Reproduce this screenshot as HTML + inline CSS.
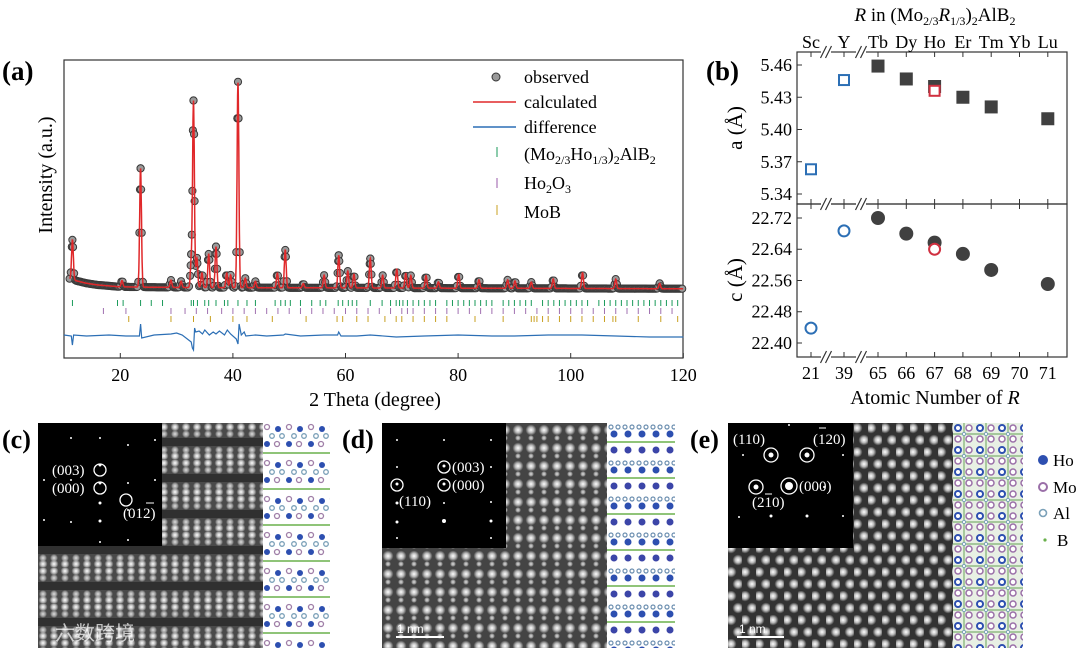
<!DOCTYPE html>
<html><head><meta charset="utf-8"><style>
html,body{margin:0;padding:0;background:#fff;}
svg{display:block;}
svg text{font-family:"Liberation Serif","DejaVu Serif","Noto Serif CJK SC",serif;}
svg text.cjk{font-family:"Noto Sans CJK SC",sans-serif;}
svg text.sans{font-family:"Liberation Sans",sans-serif;}
</style></head><body>
<svg id="fig" width="1080" height="648" viewBox="0 0 1080 648" xmlns="http://www.w3.org/2000/svg">
<defs>
<radialGradient id="spot" cx="50%" cy="50%" r="50%"><stop offset="0" stop-color="#fff"/><stop offset="0.5" stop-color="#bbb"/><stop offset="1" stop-color="#bbb" stop-opacity="0"/></radialGradient>
<radialGradient id="spot2" cx="50%" cy="50%" r="50%"><stop offset="0" stop-color="#ddd"/><stop offset="0.6" stop-color="#999"/><stop offset="1" stop-color="#999" stop-opacity="0"/></radialGradient>
<pattern id="patC" width="11" height="36" patternUnits="userSpaceOnUse" x="38" y="423">
<rect width="11" height="36" fill="#4a4a4a"/>
<rect y="15" width="11" height="8" fill="#303030"/>
<circle cx="5" cy="4" r="4.5" fill="url(#spot)"/><circle cx="5" cy="11" r="4" fill="url(#spot2)"/>
<circle cx="5" cy="27" r="4" fill="url(#spot2)"/><circle cx="5" cy="33" r="4.5" fill="url(#spot)"/>
</pattern>
<pattern id="patD" width="13" height="18" patternUnits="userSpaceOnUse" x="382" y="423">
<rect width="13" height="18" fill="#444"/>
<circle cx="6" cy="7" r="5.5" fill="url(#spot)"/><circle cx="6" cy="15" r="3" fill="url(#spot2)"/>
</pattern>
<pattern id="patE" width="14" height="24" patternUnits="userSpaceOnUse" x="728" y="423">
<rect width="14" height="24" fill="#333"/>
<circle cx="3" cy="5" r="5.5" fill="url(#spot)"/><circle cx="10" cy="17" r="5.5" fill="url(#spot)"/>
</pattern>
<pattern id="modC" width="22" height="36" patternUnits="userSpaceOnUse" x="263" y="423">
<rect width="22" height="36" fill="#fff"/>
<circle cx="4" cy="4" r="2.5" fill="none" stroke="#a07fa8" stroke-width="1.3"/><circle cx="15" cy="6" r="3" fill="#2d4fb0"/>
<circle cx="9" cy="13" r="2.3" fill="none" stroke="#7aa0b8" stroke-width="1.3"/><circle cx="19" cy="13" r="2.3" fill="none" stroke="#7aa0b8" stroke-width="1.3"/>
<circle cx="4" cy="21" r="3" fill="#2d4fb0"/><circle cx="14" cy="21" r="2.5" fill="none" stroke="#a07fa8" stroke-width="1.3"/>
<line x1="0" y1="30" x2="22" y2="30" stroke="#6ab04c" stroke-width="1.5"/>
</pattern>
<pattern id="modD" width="14" height="36" patternUnits="userSpaceOnUse" x="607" y="423">
<rect width="14" height="36" fill="#fff"/>
<circle cx="4" cy="4" r="2" fill="none" stroke="#6c8fb0" stroke-width="1.2"/><circle cx="11" cy="4" r="2" fill="none" stroke="#6c8fb0" stroke-width="1.2"/>
<circle cx="7" cy="11" r="3.5" fill="#2d4fb0"/>
<line x1="0" y1="19" x2="14" y2="19" stroke="#6ab04c" stroke-width="1.5"/>
<circle cx="7" cy="27" r="3.5" fill="#3b45a8"/>
</pattern>
<pattern id="modE" width="22" height="22" patternUnits="userSpaceOnUse" x="953" y="423">
<rect width="22" height="22" fill="#e8f0e4"/>
<path d="M0 11 L22 11 M11 0 L11 22" stroke="#7fb070" stroke-width="1.2"/>
<circle cx="5" cy="5" r="3" fill="#fff" stroke="#2d4fb0" stroke-width="2"/>
<circle cx="16" cy="5" r="3" fill="#fff" stroke="#9a6fa8" stroke-width="1.5"/>
<circle cx="5" cy="16" r="3" fill="#fff" stroke="#9a6fa8" stroke-width="1.5"/>
<circle cx="16" cy="16" r="3" fill="#fff" stroke="#9a6fa8" stroke-width="1.5"/>
<circle cx="11" cy="11" r="1.6" fill="#fff" stroke="#7aa0b8"/>
</pattern>
</defs>

<!-- Panel (a) -->
<g id="pa">
<text x="2" y="80" font-size="27" font-weight="bold">(a)</text>
<rect x="64" y="60" width="619" height="298" fill="none" stroke="#333" stroke-width="1.2"/>
<g id="aTicks"></g>
<g id="aTickRows"></g>
<polyline id="diffLine" fill="none" stroke="#2c6fb5" stroke-width="1.2"/>
<g id="obsPts"></g>
<polyline id="calcLine" fill="none" stroke="#e0282a" stroke-width="1.5"/>
<text x="375" y="406" font-size="20" text-anchor="middle">2 Theta (degree)</text>
<text transform="translate(52,175) rotate(-90)" font-size="20" text-anchor="middle">Intensity (a.u.)</text>
<g font-size="18">
<circle cx="496" cy="77" r="4" fill="#999" stroke="#333"/>
<text x="524" y="83">observed</text>
<line x1="473" y1="102" x2="516" y2="102" stroke="#e0282a" stroke-width="1.6"/>
<text x="524" y="108">calculated</text>
<line x1="473" y1="127" x2="516" y2="127" stroke="#2c6fb5" stroke-width="1.6"/>
<text x="524" y="133">difference</text>
<line x1="497" y1="147" x2="497" y2="157" stroke="#1a9a5a"/>
<text x="524" y="160">(Mo<tspan font-size="12" dy="4">2/3</tspan><tspan dy="-4">Ho</tspan><tspan font-size="12" dy="4">1/3</tspan><tspan dy="-4">)</tspan><tspan font-size="12" dy="4">2</tspan><tspan dy="-4">AlB</tspan><tspan font-size="12" dy="4">2</tspan></text>
<line x1="497" y1="178" x2="497" y2="188" stroke="#9a5aa8"/>
<text x="524" y="189">Ho<tspan font-size="12" dy="4">2</tspan><tspan dy="-4">O</tspan><tspan font-size="12" dy="4">3</tspan></text>
<line x1="497" y1="205" x2="497" y2="215" stroke="#c8a020"/>
<text x="524" y="218">MoB</text>
</g>
</g>

<!-- Panel (b) -->
<g id="pb">
<text x="706" y="80" font-size="27" font-weight="bold">(b)</text>
<text x="935" y="21" font-size="19" text-anchor="middle"><tspan font-style="italic">R</tspan> in (Mo<tspan font-size="12" dy="4">2/3</tspan><tspan dy="-4" font-style="italic">R</tspan><tspan font-size="12" dy="4">1/3</tspan><tspan dy="-4">)</tspan><tspan font-size="12" dy="4">2</tspan><tspan dy="-4">AlB</tspan><tspan font-size="12" dy="4">2</tspan></text>
<rect x="797" y="52" width="270" height="152" fill="none" stroke="#333" stroke-width="1.2"/>
<rect x="797" y="204" width="270" height="153" fill="none" stroke="#333" stroke-width="1.2"/>
<g id="bAxes"></g>
<g id="bMarks"></g>
<text transform="translate(742,128) rotate(-90)" font-size="21" text-anchor="middle">a (Å)</text>
<text transform="translate(742,280) rotate(-90)" font-size="21" text-anchor="middle">c (Å)</text>
<text x="935" y="404" font-size="20" text-anchor="middle">Atomic Number of <tspan font-style="italic">R</tspan></text>
</g>

<!-- Panel (c) -->
<g>
<text x="2" y="448" font-size="26" font-weight="bold">(c)</text>
<rect x="38" y="423" width="225" height="225" fill="url(#patC)"/>
<rect x="263" y="423" width="67" height="225" fill="url(#modC)"/>
<rect x="38" y="423" width="124" height="123" fill="#000"/>
<g fill="#fff">
<circle cx="100" cy="438" r="1"/><circle cx="100" cy="465" r="1.5"/><circle cx="100" cy="483" r="1.5"/><circle cx="100" cy="503" r="1.5"/><circle cx="100" cy="521" r="1.5"/><circle cx="100" cy="542" r="1"/>
<circle cx="71" cy="438" r="1"/><circle cx="71" cy="480" r="1"/><circle cx="71" cy="522" r="1"/>
<circle cx="128" cy="445" r="1"/><circle cx="128" cy="483" r="1"/><circle cx="128" cy="510" r="1"/><circle cx="128" cy="540" r="1"/>
<circle cx="155" cy="440" r="1"/><circle cx="155" cy="480" r="1"/><circle cx="44" cy="480" r="1"/><circle cx="44" cy="520" r="1"/>
</g>
<g fill="none" stroke="#fff" stroke-width="1.3"><circle cx="100" cy="470" r="6"/><circle cx="100" cy="488" r="6"/><circle cx="126" cy="500" r="6"/></g>
<g fill="#fff" font-size="15"><text x="52" y="475">(003)</text><text x="52" y="493">(000)</text><text x="123" y="518">(012)</text><line x1="146" y1="503" x2="154" y2="503" stroke="#fff"/></g>
<text class="cjk" x="55" y="640" font-size="20" fill="#fff" fill-opacity="0.7">六数跨境</text>
</g>

<!-- Panel (d) -->
<g>
<text x="342" y="448" font-size="26" font-weight="bold">(d)</text>
<rect x="382" y="423" width="225" height="225" fill="url(#patD)"/>
<rect x="607" y="423" width="68" height="225" fill="url(#modD)"/>
<rect x="382" y="423" width="124" height="125" fill="#000"/>
<g fill="#fff"><circle cx="397" cy="440" r="1"/><circle cx="397" cy="467" r="1"/><circle cx="397" cy="484" r="1.5"/><circle cx="397" cy="503" r="1.5"/><circle cx="397" cy="522" r="1.5"/><circle cx="397" cy="538" r="1"/>
<circle cx="444" cy="440" r="1"/><circle cx="444" cy="466" r="1.5"/><circle cx="444" cy="484" r="1.5"/><circle cx="444" cy="503" r="1"/><circle cx="444" cy="521" r="2"/>
<circle cx="491" cy="440" r="1"/><circle cx="491" cy="467" r="1"/><circle cx="491" cy="502" r="1"/><circle cx="491" cy="521" r="1.5"/><circle cx="491" cy="538" r="1"/></g>
<g fill="none" stroke="#fff" stroke-width="1.3"><circle cx="444" cy="467" r="6"/><circle cx="444" cy="485" r="6"/><circle cx="397" cy="485" r="6"/></g>
<g fill="#fff" font-size="15"><text x="452" y="472">(003)</text><text x="452" y="490">(000)</text><text x="399" y="506">(110)</text></g>
<line x1="396" y1="637" x2="444" y2="637" stroke="#fff" stroke-width="2"/>
<text class="sans" x="397" y="633" font-size="12" fill="#fff">1 nm</text>
</g>

<!-- Panel (e) -->
<g>
<text x="690" y="448" font-size="26" font-weight="bold">(e)</text>
<rect x="728" y="423" width="225" height="225" fill="url(#patE)"/>
<rect x="953" y="423" width="70" height="225" fill="url(#modE)"/>
<rect x="728" y="423" width="125" height="125" fill="#000"/>
<g fill="#fff"><circle cx="789" cy="425" r="1"/><circle cx="743" cy="455" r="1"/><circle cx="771" cy="455" r="2.5"/><circle cx="807" cy="455" r="2.5"/><circle cx="843" cy="455" r="1"/>
<circle cx="756" cy="487" r="2.5"/><circle cx="789" cy="486" r="4"/><circle cx="824" cy="487" r="1"/>
<circle cx="739" cy="517" r="1"/><circle cx="771" cy="516" r="1.5"/><circle cx="807" cy="516" r="1.5"/><circle cx="843" cy="516" r="1"/></g>
<g fill="none" stroke="#fff" stroke-width="1.3"><circle cx="771" cy="455" r="7"/><circle cx="807" cy="455" r="7"/><circle cx="756" cy="487" r="7"/><circle cx="789" cy="486" r="8"/></g>
<g fill="#fff" font-size="15"><text x="733" y="444">(110)</text><text x="813" y="444">(120)</text><text x="799" y="491">(000)</text><text x="752" y="507">(210)</text>
<line x1="819" y1="428" x2="826" y2="428" stroke="#fff"/><line x1="765" y1="494" x2="772" y2="494" stroke="#fff"/></g>
<line x1="737" y1="637" x2="784" y2="637" stroke="#fff" stroke-width="2"/>
<text class="sans" x="739" y="633" font-size="12" fill="#fff">1 nm</text>
<g font-size="17">
<circle cx="1043" cy="460" r="5" fill="#2d4fb0"/><text x="1053" y="466">Ho</text>
<circle cx="1043" cy="487" r="4" fill="#fff" stroke="#9a6fa8" stroke-width="2"/><text x="1053" y="493">Mo</text>
<circle cx="1043" cy="513" r="3.5" fill="#fff" stroke="#7aa0b8" stroke-width="1.6"/><text x="1053" y="519">Al</text>
<circle cx="1045" cy="540" r="1.6" fill="#6ab04c"/><text x="1057" y="546">B</text>
</g>
</g>
</svg>
<script>
// ---------- Panel (a) data ----------
const peakPos = [11.5,20.3,23.6,29.0,30.8,32.6,33.0,33.6,34.5,35.7,37.0,38.9,39.6,40.9,42.2,44.0,47.9,49.3,52.5,56.2,58.8,60.4,61.5,64.4,66.6,69.1,70.7,71.6,74.3,76.5,80.1,83.7,88.8,90.1,93.0,96.9,102.1,108.0,115.8];
const peakInt = [190,30,565,35,30,120,885,140,70,160,195,70,60,980,45,30,70,180,20,60,155,80,65,140,60,90,70,60,60,30,65,40,40,35,30,45,75,45,25];
const bgX = [10,12,14,16,20,30,60,90,120];
const bgY = [60,45,32,24,15,12,10,8,6];
const tickGreen = [11.5,19.5,20.5,23.6,25.5,27.5,32.6,33.0,33.7,35.0,35.7,37.0,38.5,39.1,40.9,42.5,44.0,47.5,48.5,49.3,50.2,52.0,54.0,55.5,56.5,58.7,59.5,60.5,61.2,62.0,64.4,66.5,68.0,69.0,69.6,70.2,71.0,72.0,73.0,74.0,75.0,76.0,78.0,79.0,80.0,81.0,82.0,83.0,84.0,85.0,86.0,88.0,89.0,90.0,91.0,92.0,93.0,95.0,96.0,97.0,98.0,99.0,100.0,101.0,102.0,103.0,105.0,106.0,107.0,108.0,109.0,110.0,111.0,112.0,113.0,114.0,115.0,116.0,117.0,118.0,119.0];
const tickPurple = [17,21,29,31.5,33.5,35.5,38,40,42,44,46,48,50,52,54,56,58,60,62,64,66,68,70,71,72,74,76,78,80,82,84,86,88,90,92,94,96,98,100,102,104,106,108,110,112,114,116,118];
const tickYellow = [21.5,29,33,36,40,42.5,47,53,58.5,59.5,62,64,67,69,70,72,74,76,78,83,88,93,93.5,94,95,96,98,100,102,104,106,107.5,108,112,116,119];
const diffX = [10,11.3,11.5,11.7,14,18,21,23.4,23.6,23.8,26,29,30,31,32.6,32.8,33.0,33.2,33.4,34,34.6,35,35.8,36.5,37,37.6,38.5,39,39.6,40.6,40.9,41.1,41.5,42,42.3,44,46,49,49.3,52,56.2,58.6,58.8,59.2,62,64.4,69,74,80,86,90,96,102,108,114,120];
const diffY = [1,0,-9,1,0,1,0,0,12,-2,1,2,3,1,-6,-12,-14,8,4,5,2,6,1,4,2,5,1,6,2,-3,-8,12,1,4,0,1,0,1,2,0,1,1,4,0,0,1,-1,0,1,0,0,1,1,0,-1,-1];
const xTicks = [20,40,60,80,100,120];

const NS="http://www.w3.org/2000/svg";
function mk(tag,attrs,parent){const e=document.createElementNS(NS,tag);for(const k in attrs)e.setAttribute(k,attrs[k]);parent.appendChild(e);return e;}
const ax = v => 64 + (v-10)*5.63;
const ay = I => 290 - I*0.21;
const diffScaleY = d => 336 - d;
function bg(x){for(let i=0;i<bgX.length-1;i++){if(x<=bgX[i+1]){const t=(x-bgX[i])/(bgX[i+1]-bgX[i]);return bgY[i]+t*(bgY[i+1]-bgY[i]);}}return bgY[bgY.length-1];}
function prof(x){let s=bg(x);for(let i=0;i<peakPos.length;i++){const d=(x-peakPos[i])/0.16;s+=peakInt[i]*Math.exp(-0.5*d*d);}return s;}

const tG=document.getElementById('aTicks');
xTicks.forEach(v=>{
  const l=mk('line',{x1:ax(v),x2:ax(v),y1:358,y2:353,stroke:'#333'},tG);
  
  
  const t=mk('text',{x:ax(v),y:381,'font-size':18,'text-anchor':'middle'},tG);
  
  
  t.textContent=v;
});
const tr=document.getElementById('aTickRows');
[[tickGreen,'#1a9a5a',300],[tickPurple,'#a070b0',308],[tickYellow,'#c8a020',316]].forEach(([arr,c,y0])=>{
  arr.forEach(v=>{const l=mk('line',{x1:ax(v),x2:ax(v),y1:y0,y2:y0+6,stroke:c,'stroke-width':1},tr);
  
  });
});
const dpts=[];
for(let i=0;i<diffX.length;i++){dpts.push(ax(diffX[i]).toFixed(1)+','+diffScaleY(diffY[i]).toFixed(1));}
document.getElementById('diffLine').setAttribute('points',dpts.join(' '));
const og=document.getElementById('obsPts');
for(let x=11;x<=119.9;x+=0.2){
  const c=mk('circle',{cx:ax(x).toFixed(1),cy:ay(prof(x)).toFixed(1),r:3.6,fill:'#9a9a9a',stroke:'#3a3a3a','stroke-width':1},og);
  
  
}
peakPos.forEach((p,i)=>{ if(peakInt[i]>100){ [-0.1,0,0.1].forEach(o=>{
  const c=mk('circle',{cx:ax(p+o).toFixed(1),cy:ay(prof(p+o)).toFixed(1),r:3.6,fill:'#9a9a9a',stroke:'#3a3a3a'},og);
  
  });}});
const cpts=[];
for(let x=11;x<=120;x+=0.04){cpts.push(ax(x).toFixed(1)+','+ay(prof(x)).toFixed(1));}
document.getElementById('calcLine').setAttribute('points',cpts.join(' '));

// ---------- Panel (b) data ----------
const elements = ['Sc','Y','Tb','Dy','Ho','Er','Tm','Yb','Lu'];
const atomicNums = [21,39,65,66,67,68,69,70,71];
const aZ = [21,39,65,66,67,68,69,71];
const aVals = [5.363,5.446,5.459,5.447,5.440,5.430,5.421,5.410];
const cVals = [22.438,22.687,22.720,22.680,22.657,22.628,22.587,22.551];
const openFlags = [1,1,0,0,0,0,0,0];
const refZ = [67];
const refA = [5.436];
const refC = [22.640];
const aTicks = [5.34,5.37,5.40,5.43,5.46];
const cTicks = [22.40,22.48,22.56,22.64,22.72];

const bx = z => z>=65 ? 878+(z-65)*28.3 : (z>=39 ? 844 : 811);
const bya = v => 65 + (5.46-v)*1075;
const byc = v => 218 + (22.72-v)*390.6;
const bA=document.getElementById('bAxes');
atomicNums.forEach((z,i)=>{
  const X=bx(z);
  [[52,57],[204,199],[204,209],[357,352]].forEach(([a,b])=>{const l=mk('line',{x1:X,x2:X,y1:a,y2:b,stroke:'#333'},bA);
    
    });
  const t=mk('text',{x:X,y:379,'font-size':18,'text-anchor':'middle'},bA);
  
  
  t.textContent=z;
  const e=mk('text',{x:X,y:48,'font-size':18,'text-anchor':'middle'},bA);
  
  
  e.textContent=elements[i];
});
[826,861].forEach(X=>{[52,204,357].forEach(Y=>{
  const r=mk('rect',{x:X-5,y:Y-4,width:10,height:8,fill:'#fff'},bA);
  
  
  [-2.5,2.5].forEach(o=>{const l=mk('line',{x1:X+o-3,y1:Y+6,x2:X+o+3,y2:Y-6,stroke:'#333','stroke-width':1.2},bA);
  
  });
});});
function yTicks(ticks,fn){
  ticks.forEach(v=>{const Y=fn(v);
    const l=mk('line',{x1:797,x2:802,y1:Y,y2:Y,stroke:'#333'},bA);
    
    
    const t=mk('text',{x:792,y:Y+6,'font-size':18,'text-anchor':'end'},bA);
    
    
    t.textContent=v.toFixed(2);});
}
yTicks(aTicks,bya);
yTicks(cTicks,byc);
const bm=document.getElementById('bMarks');
aZ.forEach((z,i)=>{
  const X=bx(z),Ya=bya(aVals[i]),Yc=byc(cVals[i]);
  let s,c;
  if(openFlags[i]){
    s=mk('rect',{x:X-5,y:Ya-5,width:10,height:10,fill:'none',stroke:'#2c6fb5','stroke-width':2},bm);
    c=mk('circle',{cx:X,cy:Yc,r:5.5,fill:'none',stroke:'#2c6fb5','stroke-width':2},bm);
  } else {
    s=mk('rect',{x:X-6.5,y:Ya-6.5,width:13,height:13,fill:'#404040'},bm);
    c=mk('circle',{cx:X,cy:Yc,r:7,fill:'#404040'},bm);
  }
  
  
  
  
});
refZ.forEach((z,i)=>{
  const s=mk('rect',{x:bx(z)-5,y:bya(refA[i])-5,width:10,height:10,fill:'#fff',stroke:'#d03040','stroke-width':2},bm);
  
  
  const c=mk('circle',{cx:bx(z),cy:byc(refC[i]),r:5.5,fill:'#fff',stroke:'#d03040','stroke-width':2},bm);
  
  
});
</script>
</body></html>
